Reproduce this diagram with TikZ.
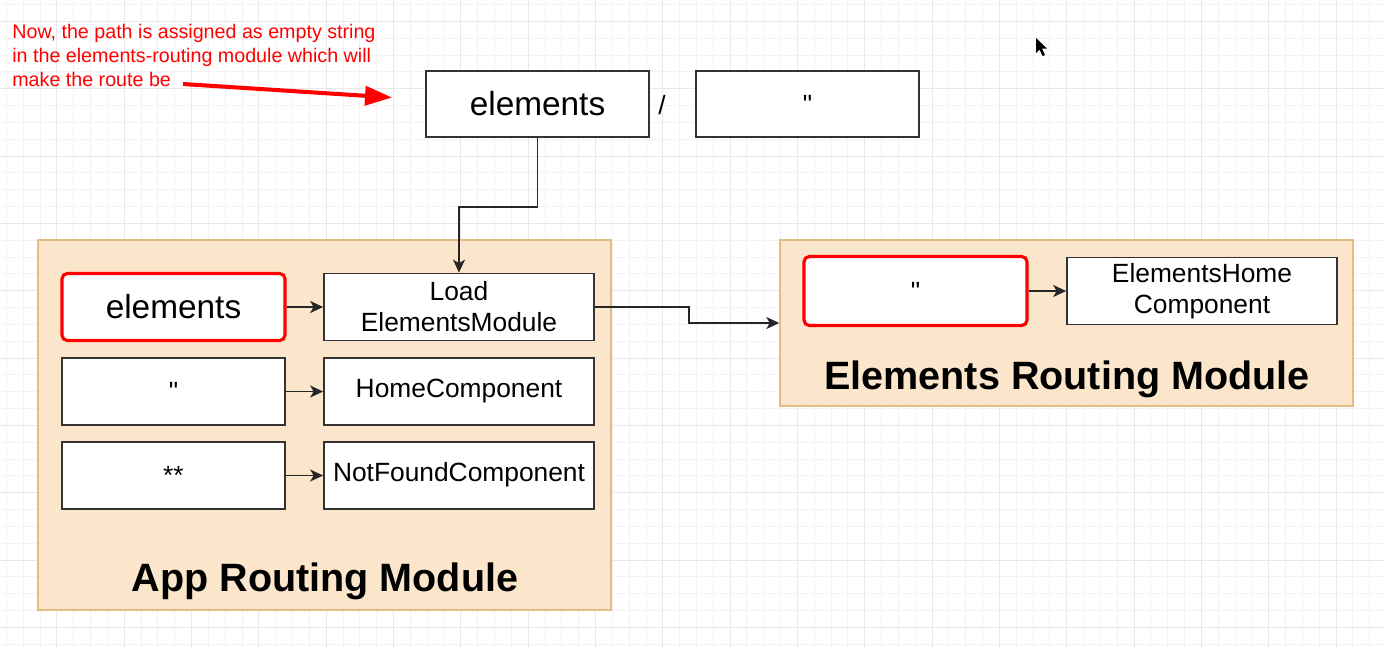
\documentclass[tikz,border=0pt]{standalone}
\usepackage{fontspec}
\setmainfont{Liberation Sans}
\usetikzlibrary{arrows.meta}
\definecolor{modfill}{HTML}{FCE6CB}
\definecolor{modline}{HTML}{E3BE84}
\definecolor{gridminor}{HTML}{F3F3F3}
\definecolor{gridmajor}{HTML}{E8E8E8}
\definecolor{notered}{HTML}{FF0000}
\tikzset{
	x=0.02cm, y=-0.02cm,
	routebox/.style = {
		shape=rectangle,
		draw=black!80,
		line width=1pt,
		fill=white,
		align=center,
		inner sep=0pt,
		minimum width=4.46cm,
		minimum height=1.34cm,
		font=\fontsize{15}{17.6}\selectfont
	},
	targetbox/.style = {
		routebox,
		minimum width=5.4cm
	},
	hitbox/.style = {
		routebox,
		draw=notered,
		line width=1.8pt,
		rounded corners=3pt
	},
	modbox/.style = {
		shape=rectangle,
		draw=modline,
		fill=modfill,
		line width=0.9pt,
		inner sep=0pt
	},
	modlabel/.style = {
		font=\fontsize{22.5}{26}\selectfont\bfseries,
		inner sep=0pt
	},
	bigword/.style = {
		font=\fontsize{19}{22}\selectfont
	},
	link/.style = {
		-{Stealth[length=0.26cm, width=0.24cm, inset=0.07cm]},
		draw=black!85,
		line width=0.95pt
	}
}
\begin{document}
\begin{tikzpicture}
	\useasboundingbox (0,0) rectangle (1385,647);
	\fill[white] (0,0) rectangle (1385,647);
	\foreach \i in {0,...,81}
		\draw[gridminor, line width=0.5pt] ({6.4+16.83*\i},0) -- ({6.4+16.83*\i},647);
	\foreach \i in {0,...,38}
		\draw[gridminor, line width=0.5pt] (0,{4.6+16.83*\i}) -- (1385,{4.6+16.83*\i});
	\foreach \i in {0,...,19}
		\draw[gridmajor, line width=0.5pt] ({56.9+67.32*\i},0) -- ({56.9+67.32*\i},647);
	\foreach \i in {0,...,9}
		\draw[gridmajor, line width=0.5pt] (0,{21.5+67.32*\i}) -- (1385,{21.5+67.32*\i});

	\node[anchor=north west, align=left, inner sep=0pt, text=notered,
		font=\fontsize{11.2}{13.6}\selectfont] (note) at (12,24)
		{Now, the path is assigned as empty string\\
		in the elements-routing module which will\\
		make the route be};
	\coordinate (notestart) at (183,84);
	\coordinate (notetip) at (392,97.5);
	\draw[notered, line width=2.3pt, -{Triangle[length=0.54cm, width=0.38cm]}] (notestart) -- (notetip);

	\node[routebox, bigword, minimum height=1.32cm] (topel) at (537.5,104) {elements};
	\node[font=\fontsize{15}{17}\selectfont, inner sep=0pt] (slash) at (662,105) {/};
	\node[routebox, minimum height=1.32cm] (topempty) at (807.5,104) {\textquotedbl};

	\node[modbox, minimum width=11.46cm, minimum height=7.4cm] (appmod) at (324.5,425) {};
	\node[modlabel] (applabel) at (325,581) {App Routing Module};

	\node[hitbox, bigword] (elrow) at (173.5,307) {elements};
	\node[targetbox] (loadmod) at (459,307) {Load\\ElementsModule};
	\node[routebox] (emptyrow) at (173.5,391.5) {\textquotedbl};
	\node[targetbox] (homecomp) at (459,391.5) {\strut HomeComponent};
	\node[routebox] (starrow) at (173.5,475.5) {**};
	\node[targetbox] (notfound) at (459,475.5) {\strut NotFoundComponent};

	\node[modbox, minimum width=11.46cm, minimum height=3.32cm] (elmod) at (1066.5,323) {};
	\node[modlabel] (ellabel) at (1067,379) {Elements Routing Module};

	\node[hitbox, minimum height=1.38cm] (elempty) at (915.5,291) {\textquotedbl};
	\node[targetbox] (elhome) at (1202,291) {ElementsHome\\Component};

	\draw[link] (topel.south) -- ++(0,69) -| (loadmod.north);
	\draw[link] (elrow.east) -- (loadmod.west);
	\draw[link] (emptyrow.east) -- (homecomp.west);
	\draw[link] (starrow.east) -- (notfound.west);
	\draw[link] (loadmod.east) -- ++(94,0) |- (elmod.west);
	\draw[link] (elempty.east) -- (elhome.west);

	\fill[black] (1036,38) -- (1036,53) -- (1039.5,49.5) -- (1042.5,56) -- (1045,55) -- (1042,48.5) -- (1047,48.5) -- cycle;
\end{tikzpicture}
\end{document}
